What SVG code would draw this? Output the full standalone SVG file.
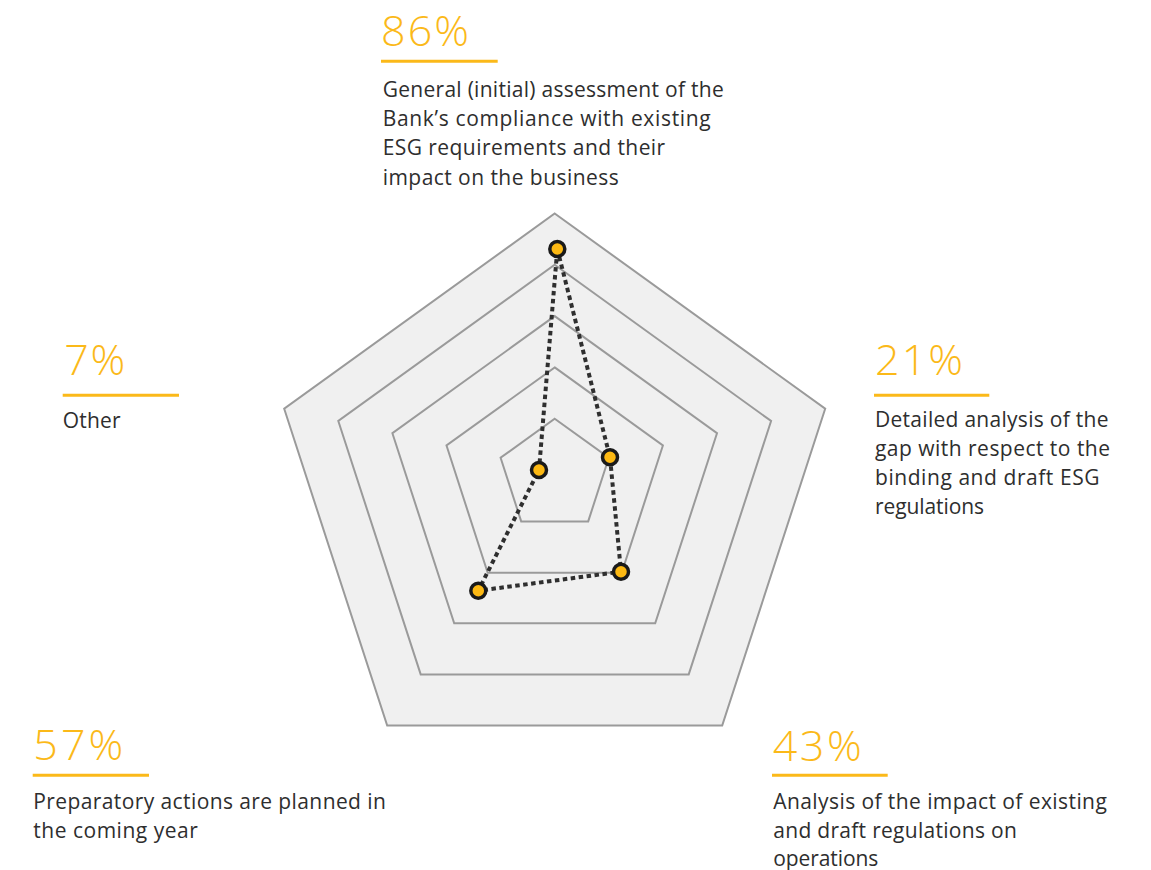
<svg xmlns="http://www.w3.org/2000/svg" width="1151" height="870" viewBox="0 0 1151 870">
  <style>
    .ring { fill: none; stroke: #9a9a9a; stroke-width: 2; stroke-linejoin: miter; }
    .outer { fill: #f0f0f0; stroke: #9a9a9a; stroke-width: 2; }
    .pct { font-family: "Open Sans", "Noto Sans", sans-serif; font-size: 43px; font-weight: 350; fill: #fbb919; }
    .lbl { font-family: "Open Sans", "Noto Sans", sans-serif; font-size: 21px; fill: #2e2e2e; }
    .rule { stroke: #fbb919; stroke-width: 3; }
    .data { fill: none; stroke: #2f2f2f; stroke-width: 4; stroke-dasharray: 4.5 3.5; }
    .pt { fill: #fdb913; stroke: #1a1a1a; stroke-width: 3.5; }
  </style>
  <rect width="1151" height="870" fill="#ffffff"/>

  <g id="grid">
    <polygon class="outer" points="554.7,213.5 825.2,408.75 722.2,725.5 387.2,725.5 284.2,408.75"/>
    <polygon class="ring" points="554.7,264.8 771.1,421 688.7,674.4 420.7,674.4 338.3,421"/>
    <polygon class="ring" points="554.7,316.1 717,433.25 655.2,623.3 454.2,623.3 392.4,433.25"/>
    <polygon class="ring" points="554.7,367.4 662.9,445.5 621.7,572.7 487.7,572.7 446.5,445.5"/>
    <polygon class="ring" points="554.7,418.7 608.8,457.75 588.2,521.4 521.2,521.4 500.6,457.75"/>
  </g>

  <g id="connectors">
    <polygon class="data" points="557.3,249 610,457.3 621,571.7 478.3,590.7 539,470"/>
  </g>

  <g id="points">
    <circle id="pt-general" class="pt" cx="557.3" cy="249" r="7.5"/>
    <circle id="pt-detailed" class="pt" cx="610" cy="457.3" r="7.5"/>
    <circle id="pt-impact" class="pt" cx="621" cy="571.7" r="7.5"/>
    <circle id="pt-preparatory" class="pt" cx="478.3" cy="590.7" r="7.5"/>
    <circle id="pt-other" class="pt" cx="539" cy="470" r="7.5"/>
  </g>

  <g id="label-general">
    <text class="pct" x="381" y="45.7" textLength="88" lengthAdjust="spacing">86%</text>
    <line class="rule" x1="381" y1="61.3" x2="497.7" y2="61.3"/>
    <text class="lbl" x="382.7" y="96.7" textLength="341" lengthAdjust="spacing">General (initial) assessment of the</text>
    <text class="lbl" x="382.7" y="126" textLength="328" lengthAdjust="spacing">Bank’s compliance with existing</text>
    <text class="lbl" x="382.7" y="155.3" textLength="282.5" lengthAdjust="spacing">ESG requirements and their</text>
    <text class="lbl" x="382.7" y="184.6" textLength="236" lengthAdjust="spacing">impact on the business</text>
  </g>

  <g id="label-detailed">
    <text class="pct" x="875" y="375" textLength="88" lengthAdjust="spacing">21%</text>
    <line class="rule" x1="874" y1="395.3" x2="989.3" y2="395.3"/>
    <text class="lbl" x="875" y="426.7" textLength="233.5" lengthAdjust="spacing">Detailed analysis of the</text>
    <text class="lbl" x="875" y="456" textLength="235" lengthAdjust="spacing">gap with respect to the</text>
    <text class="lbl" x="875" y="485.3" textLength="224.5" lengthAdjust="spacing">binding and draft ESG</text>
    <text class="lbl" x="875" y="514.2" textLength="109" lengthAdjust="spacing">regulations</text>
  </g>

  <g id="label-other">
    <text class="pct" x="64.3" y="375" textLength="61" lengthAdjust="spacing">7%</text>
    <line class="rule" x1="62.7" y1="395.3" x2="179" y2="395.3"/>
    <text class="lbl" x="62.7" y="427.7" textLength="58" lengthAdjust="spacing">Other</text>
  </g>

  <g id="label-preparatory">
    <text class="pct" x="33.3" y="760" textLength="90" lengthAdjust="spacing">57%</text>
    <line class="rule" x1="32.7" y1="775.3" x2="149" y2="775.3"/>
    <text class="lbl" x="33.3" y="809" textLength="352.5" lengthAdjust="spacing">Preparatory actions are planned in</text>
    <text class="lbl" x="33.3" y="837.7" textLength="164.5" lengthAdjust="spacing">the coming year</text>
  </g>

  <g id="label-impact">
    <text class="pct" x="772.7" y="760.7" textLength="89" lengthAdjust="spacing">43%</text>
    <line class="rule" x1="772" y1="775.3" x2="887.7" y2="775.3"/>
    <text class="lbl" x="773.3" y="809" textLength="333.5" lengthAdjust="spacing">Analysis of the impact of existing</text>
    <text class="lbl" x="773.3" y="837.7" textLength="243.5" lengthAdjust="spacing">and draft regulations on</text>
    <text class="lbl" x="773.3" y="866" textLength="105" lengthAdjust="spacing">operations</text>
  </g>
</svg>
